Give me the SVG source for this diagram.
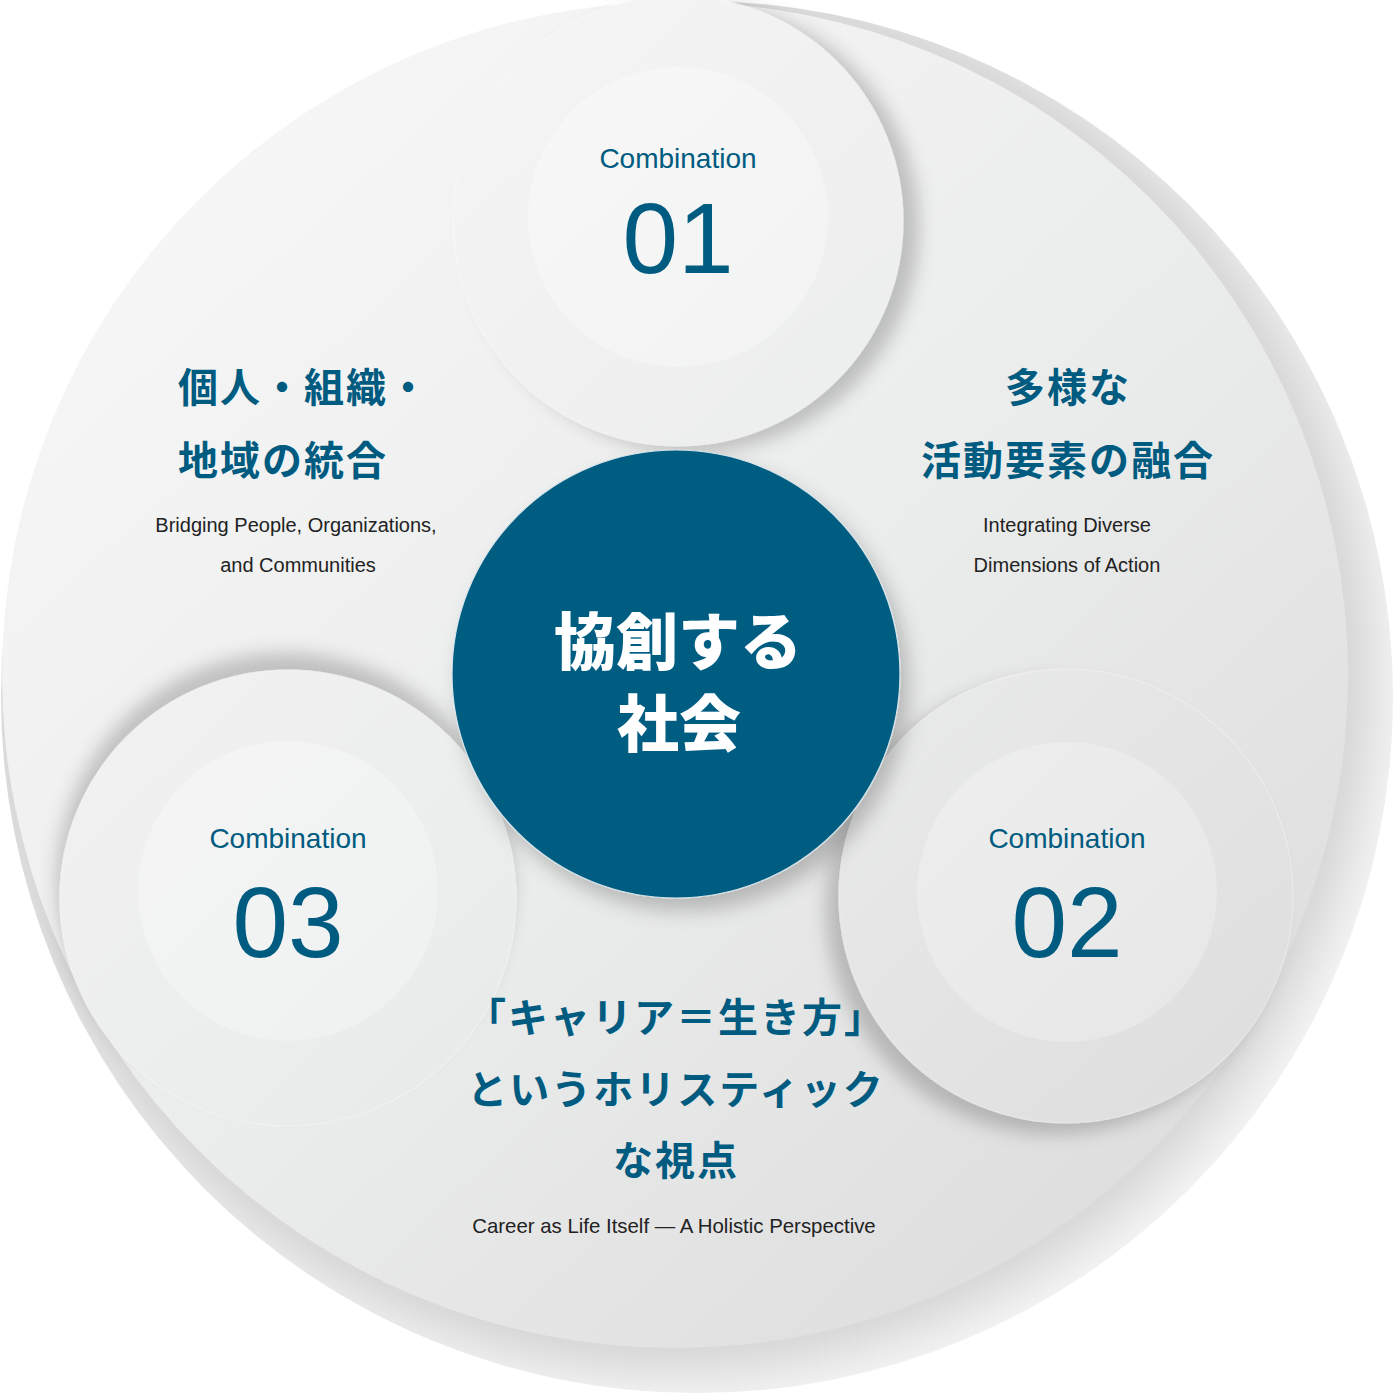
<svg xmlns="http://www.w3.org/2000/svg" width="1394" height="1394" viewBox="0 0 1394 1394">
<defs>
<style>
.jp{font-family:"Noto Sans CJK JP","Noto Sans",sans-serif;font-weight:700;fill:#005b80;font-size:40px;letter-spacing:2px;}
.sub{font-family:"Liberation Sans",Arial,sans-serif;font-size:20px;fill:#222;text-anchor:middle;}
.comb{font-family:"Liberation Sans",Arial,sans-serif;font-size:28px;fill:#005b80;text-anchor:middle;}
.num{font-family:"Liberation Sans",Arial,sans-serif;font-size:100px;fill:#005b80;text-anchor:middle;}
.center{font-family:"Noto Sans CJK JP","Noto Sans",sans-serif;font-weight:900;fill:#ffffff;font-size:62px;text-anchor:middle;}
.outer{fill:url(#bgFill);stroke:#ffffff;stroke-opacity:0.3;stroke-width:1.2;}
.inner{fill:url(#innerFill);}
</style>
<radialGradient id="bgShadow" gradientUnits="userSpaceOnUse" cx="675" cy="675" r="740">
<stop offset="0.88" stop-color="#d6d6d6"/>
<stop offset="0.915" stop-color="#dadada"/>
<stop offset="0.96" stop-color="#ebebeb"/>
<stop offset="1" stop-color="#f8f8f8"/>
</radialGradient>
<linearGradient id="bgFill" gradientUnits="userSpaceOnUse" x1="150" y1="100" x2="1250" y2="1300">
<stop offset="0" stop-color="#f7f7f7"/>
<stop offset="0.5" stop-color="#ebecec"/>
<stop offset="1" stop-color="#dbdbdb"/>
</linearGradient>
<linearGradient id="innerFill" gradientUnits="userSpaceOnUse" x1="150" y1="100" x2="1250" y2="1300">
<stop offset="0" stop-color="#fafafa"/>
<stop offset="0.5" stop-color="#f0f1f1"/>
<stop offset="1" stop-color="#e3e3e3"/>
</linearGradient>
<filter id="sh1" x="-30%" y="-30%" width="160%" height="160%">
<feDropShadow dx="16" dy="6" stdDeviation="9" flood-color="#000" flood-opacity="0.2"/>
</filter>
<filter id="sh2" x="-30%" y="-30%" width="160%" height="160%">
<feDropShadow dx="-13" dy="11" stdDeviation="9" flood-color="#000" flood-opacity="0.2"/>
</filter>
<filter id="sh3" x="-30%" y="-30%" width="160%" height="160%">
<feDropShadow dx="-3" dy="-17" stdDeviation="9" flood-color="#000" flood-opacity="0.2"/>
</filter>
<filter id="shC" x="-30%" y="-30%" width="160%" height="160%">
<feDropShadow dx="8" dy="12" stdDeviation="10" flood-color="#000" flood-opacity="0.22"/>
</filter>
</defs>

<g id="background">
<circle cx="697" cy="697" r="696" fill="url(#bgShadow)"/>
<circle cx="675" cy="675" r="673" fill="url(#bgFill)"/>
</g>

<g id="connectors"/>

<g id="combination-01">
<circle class="outer" cx="678" cy="221" r="225" filter="url(#sh1)"/>
<circle class="inner" cx="678" cy="217" r="150"/>
<text class="comb" x="678" y="168">Combination</text>
<text class="num" x="678" y="273">01</text>
</g>

<g id="combination-03">
<circle class="outer" cx="288" cy="898" r="228" filter="url(#sh3)"/>
<circle class="inner" cx="288" cy="891" r="150"/>
<text class="comb" x="288" y="848">Combination</text>
<text class="num" x="288" y="957">03</text>
</g>

<g id="combination-02">
<circle class="outer" cx="1066" cy="896" r="227" filter="url(#sh2)"/>
<circle class="inner" cx="1067" cy="892" r="150"/>
<text class="comb" x="1067" y="848">Combination</text>
<text class="num" x="1067" y="957">02</text>
</g>

<g id="center-node">
<circle cx="676" cy="674" r="224" fill="#025d82" filter="url(#shC)" stroke="#d8e4ea" stroke-width="1.2"/>
<text class="center" x="678" y="665">協創する</text>
<text class="center" x="679" y="747">社会</text>
</g>

<g id="label-01">
<text class="jp" x="178" y="402">個人・組織・</text>
<text class="jp" x="178" y="475">地域の統合</text>
<text class="sub" x="296" y="532">Bridging People, Organizations,</text>
<text class="sub" x="298" y="572">and Communities</text>
</g>

<g id="label-02">
<text class="jp" x="1068" y="402" text-anchor="middle">多様な</text>
<text class="jp" x="1068" y="475" text-anchor="middle">活動要素の融合</text>
<text class="sub" x="1067" y="532">Integrating Diverse</text>
<text class="sub" x="1067" y="572">Dimensions of Action</text>
</g>

<g id="label-03">
<text class="jp" x="676" y="1032" text-anchor="middle">「キャリア＝生き方」</text>
<text class="jp" x="676" y="1104" text-anchor="middle">というホリスティック</text>
<text class="jp" x="676" y="1175" text-anchor="middle">な視点</text>
<text class="sub" x="674" y="1233" style="font-size:20.4px">Career as Life Itself — A Holistic Perspective</text>
</g>
</svg>
